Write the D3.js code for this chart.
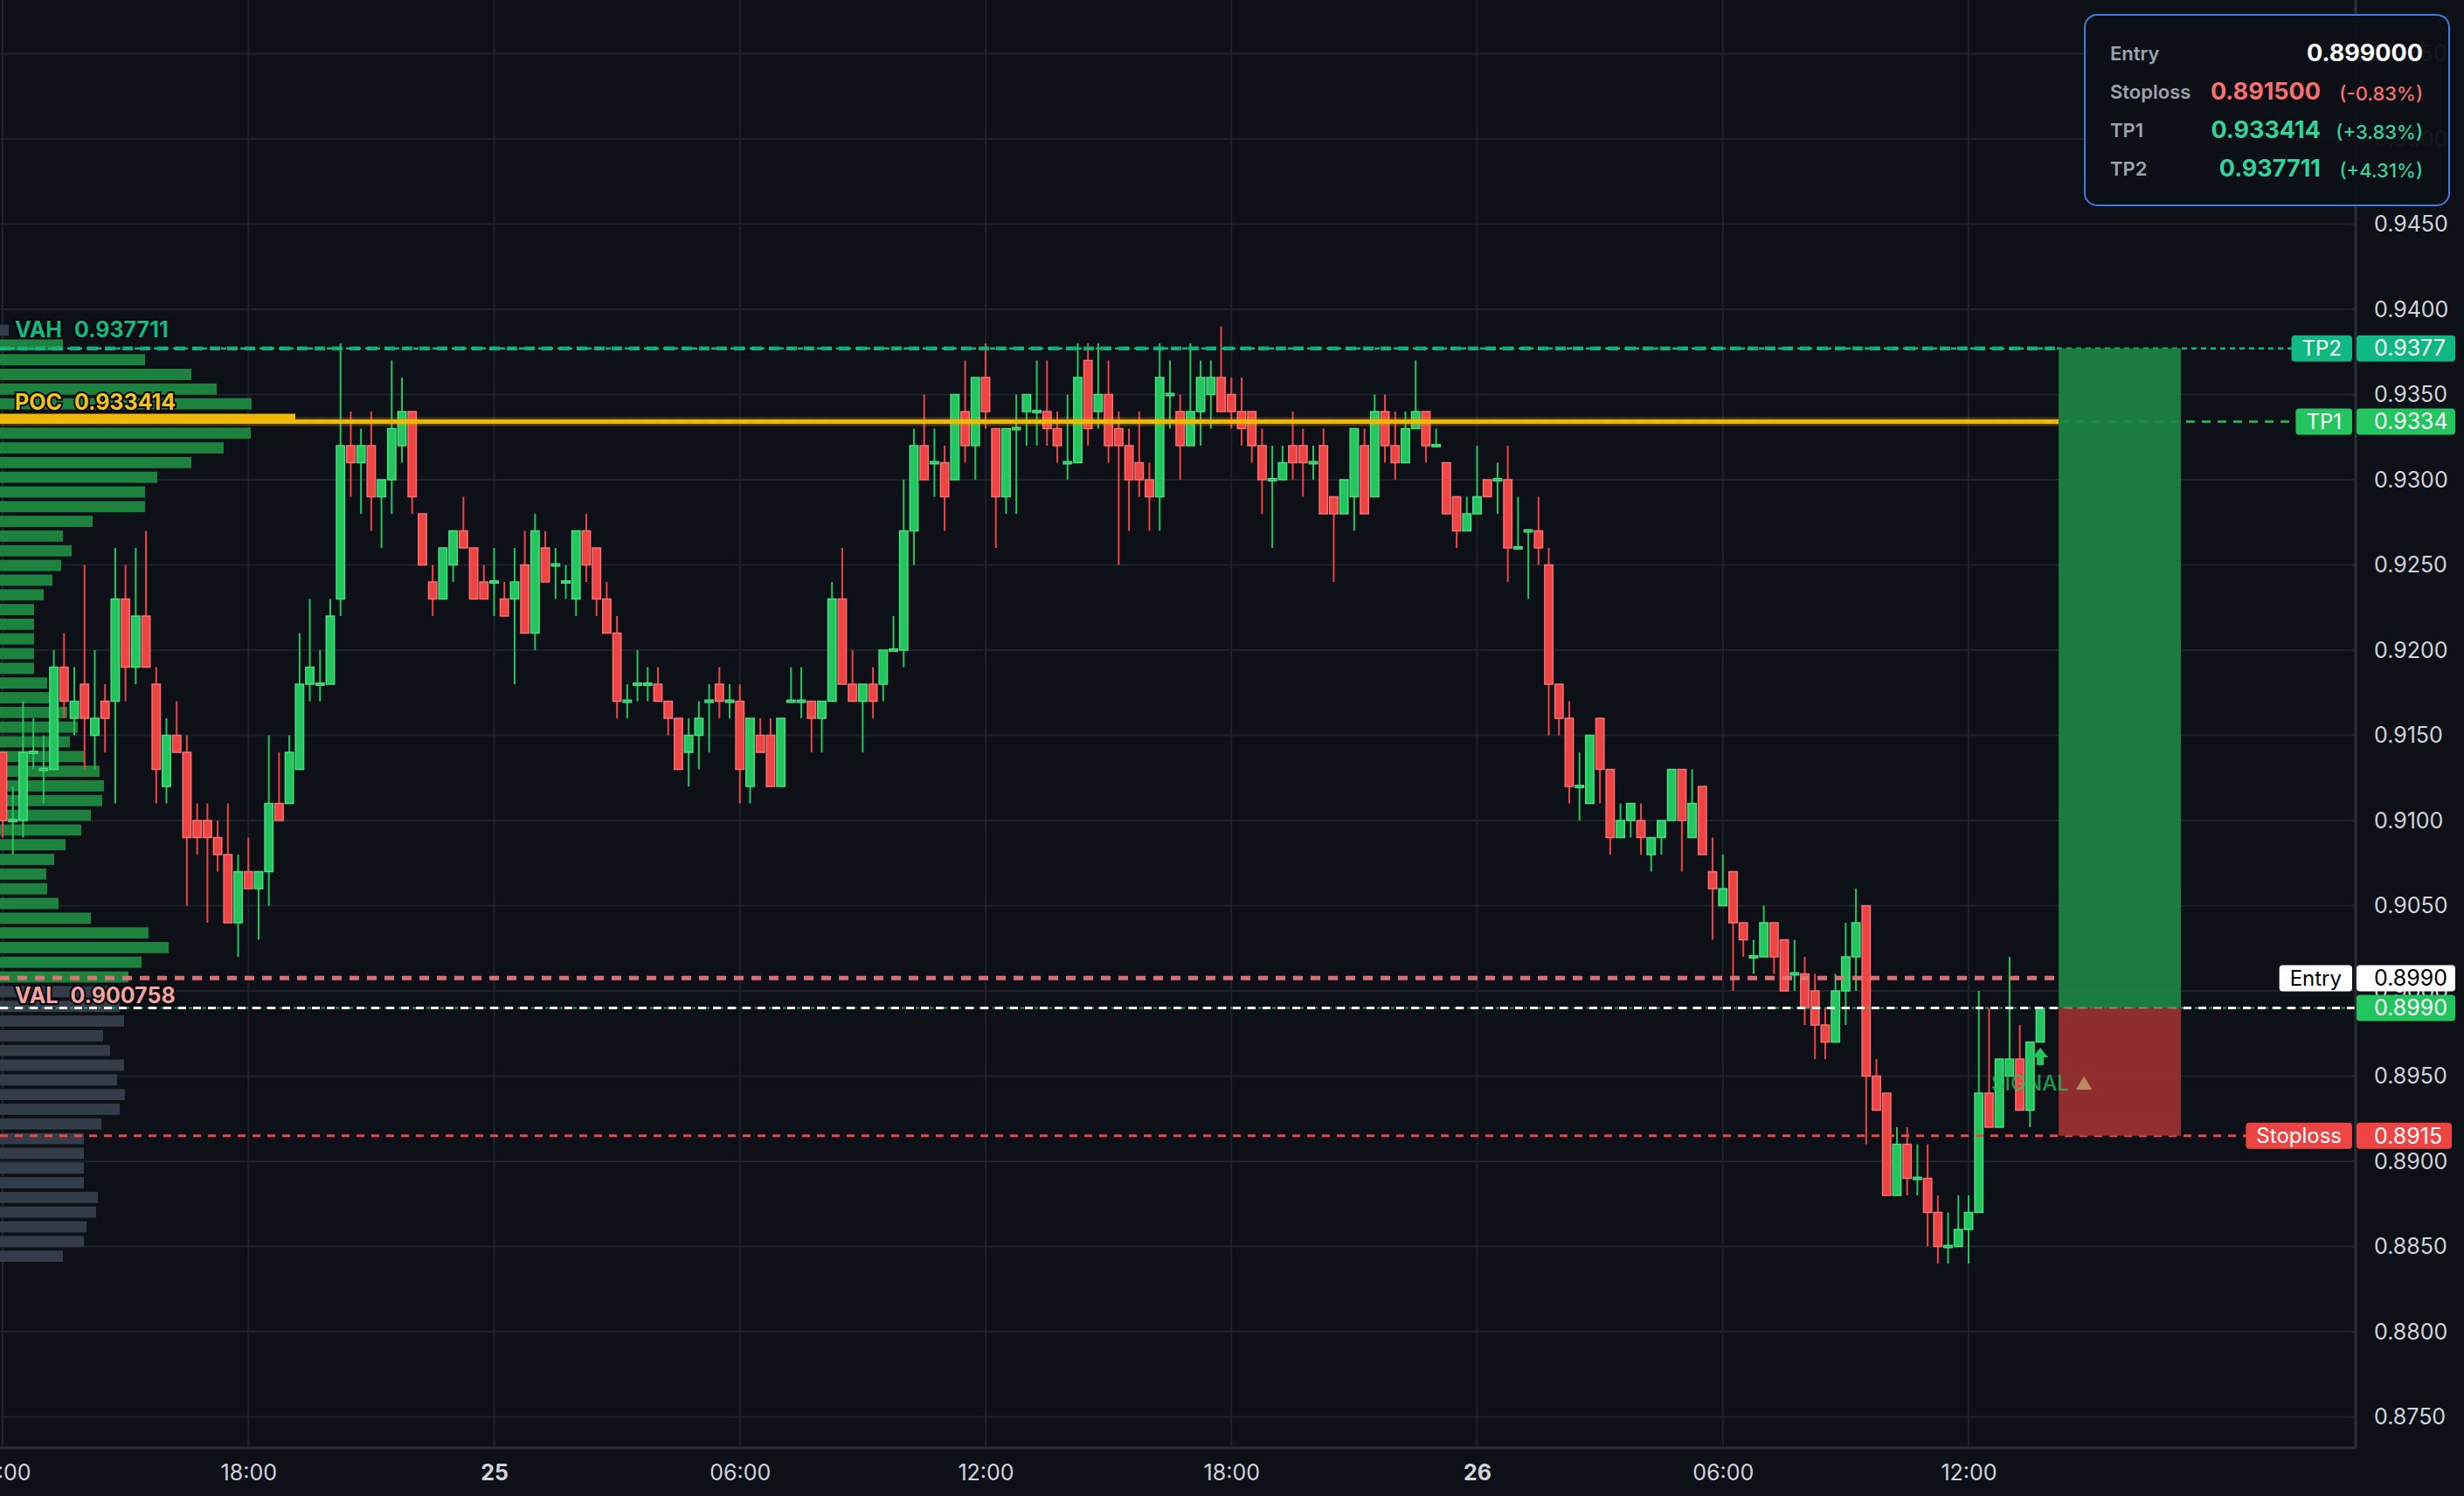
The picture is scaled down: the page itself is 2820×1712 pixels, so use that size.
<!DOCTYPE html>
<html><head><meta charset="utf-8">
<script src="https://cdn.jsdelivr.net/npm/d3@7"></script>
<style>
html,body{margin:0;padding:0;background:#0d1017;overflow:hidden}
svg{display:block}
text{font-family:Inter,"Noto Sans",sans-serif}
</style></head><body>
<svg id="chart" width="2820" height="1712"></svg>
<script>
// ---------------- DATA ----------------
// 15-minute candles starting 24th 12:00
const open = [0.914,0.910,0.910,0.914,0.913,0.913,0.919,0.916,0.918,0.915,
0.917,0.917,0.923,0.919,0.922,0.918,0.912,0.915,0.914,0.910,
0.910,0.909,0.908,0.904,0.907,0.906,0.907,0.911,0.911,0.913,
0.918,0.918,0.918,0.923,0.932,0.931,0.932,0.929,0.930,0.932,
0.934,0.928,0.924,0.923,0.925,0.927,0.926,0.924,0.924,0.923,
0.923,0.925,0.921,0.926,0.925,0.924,0.923,0.927,0.926,0.923,
0.921,0.917,0.918,0.918,0.918,0.917,0.916,0.914,0.915,0.917,
0.918,0.917,0.917,0.912,0.915,0.915,0.912,0.917,0.917,0.917,
0.916,0.917,0.923,0.918,0.917,0.918,0.918,0.920,0.920,0.927,
0.932,0.931,0.931,0.930,0.934,0.932,0.936,0.933,0.929,0.933,
0.934,0.934,0.934,0.933,0.931,0.931,0.937,0.934,0.935,0.933,
0.932,0.931,0.930,0.929,0.935,0.934,0.932,0.934,0.935,0.936,
0.935,0.934,0.934,0.932,0.930,0.930,0.932,0.932,0.931,0.932,
0.929,0.928,0.929,0.932,0.929,0.934,0.932,0.931,0.933,0.934,
0.932,0.931,0.929,0.927,0.928,0.930,0.930,0.930,0.926,0.927,
0.927,0.925,0.918,0.916,0.912,0.911,0.916,0.913,0.909,0.910,
0.910,0.908,0.909,0.910,0.913,0.909,0.912,0.907,0.905,0.907,
0.904,0.902,0.902,0.904,0.903,0.901,0.901,0.900,0.898,0.897,
0.900,0.902,0.905,0.895,0.894,0.888,0.891,0.889,0.889,0.887,
0.885,0.885,0.886,0.887,0.894,0.892,0.895,0.896,0.893,0.897];
const high = [0.914,0.912,0.917,0.916,0.915,0.920,0.921,0.919,0.925,0.920,
0.918,0.926,0.925,0.926,0.927,0.919,0.916,0.917,0.915,0.911,
0.911,0.910,0.911,0.908,0.909,0.907,0.915,0.914,0.915,0.921,
0.923,0.920,0.923,0.938,0.934,0.933,0.934,0.930,0.937,0.936,
0.934,0.928,0.925,0.926,0.927,0.929,0.926,0.925,0.926,0.924,
0.926,0.927,0.928,0.927,0.926,0.925,0.927,0.928,0.926,0.924,
0.922,0.918,0.920,0.919,0.919,0.917,0.916,0.916,0.917,0.918,
0.919,0.918,0.918,0.916,0.916,0.916,0.916,0.919,0.919,0.917,
0.917,0.924,0.926,0.920,0.918,0.919,0.920,0.922,0.930,0.933,
0.935,0.933,0.932,0.935,0.937,0.936,0.938,0.933,0.933,0.935,
0.935,0.937,0.937,0.934,0.935,0.938,0.938,0.938,0.937,0.934,
0.933,0.934,0.931,0.938,0.937,0.935,0.938,0.937,0.937,0.939,
0.936,0.936,0.934,0.933,0.932,0.932,0.934,0.933,0.932,0.933,
0.929,0.930,0.933,0.933,0.935,0.935,0.934,0.934,0.937,0.934,
0.933,0.931,0.929,0.929,0.932,0.930,0.931,0.932,0.929,0.927,
0.929,0.926,0.918,0.917,0.914,0.915,0.916,0.913,0.911,0.911,
0.911,0.909,0.910,0.913,0.913,0.913,0.912,0.909,0.908,0.907,
0.904,0.903,0.905,0.904,0.903,0.903,0.902,0.901,0.899,0.901,
0.904,0.906,0.905,0.896,0.894,0.892,0.892,0.891,0.891,0.888,
0.887,0.888,0.888,0.900,0.899,0.896,0.902,0.898,0.897,0.899];
const low = [0.909,0.908,0.909,0.913,0.911,0.913,0.916,0.915,0.913,0.913,
0.914,0.911,0.917,0.918,0.919,0.911,0.911,0.914,0.905,0.908,
0.904,0.907,0.904,0.902,0.906,0.903,0.905,0.910,0.911,0.913,
0.917,0.917,0.918,0.922,0.929,0.928,0.927,0.926,0.928,0.931,
0.928,0.925,0.922,0.923,0.924,0.926,0.923,0.923,0.922,0.922,
0.918,0.921,0.920,0.924,0.923,0.923,0.922,0.924,0.922,0.921,
0.916,0.916,0.917,0.917,0.917,0.915,0.913,0.912,0.913,0.914,
0.916,0.916,0.911,0.911,0.914,0.912,0.912,0.917,0.916,0.914,
0.914,0.917,0.918,0.917,0.914,0.916,0.917,0.920,0.919,0.925,
0.930,0.929,0.927,0.930,0.931,0.930,0.933,0.926,0.928,0.928,
0.932,0.932,0.932,0.931,0.930,0.931,0.932,0.933,0.931,0.925,
0.927,0.929,0.927,0.927,0.933,0.930,0.932,0.932,0.933,0.934,
0.933,0.932,0.931,0.928,0.926,0.930,0.930,0.929,0.930,0.928,
0.924,0.928,0.927,0.928,0.929,0.931,0.930,0.931,0.933,0.931,
0.932,0.928,0.926,0.927,0.928,0.929,0.928,0.924,0.926,0.923,
0.925,0.915,0.915,0.911,0.910,0.911,0.911,0.908,0.909,0.909,
0.908,0.907,0.908,0.910,0.907,0.909,0.908,0.903,0.905,0.900,
0.902,0.901,0.902,0.901,0.900,0.900,0.898,0.896,0.896,0.897,
0.898,0.900,0.891,0.893,0.888,0.888,0.888,0.888,0.885,0.884,
0.884,0.885,0.884,0.887,0.892,0.892,0.895,0.893,0.892,0.897];
const close = [0.910,0.910,0.914,0.914,0.913,0.919,0.917,0.917,0.916,0.916,
0.916,0.923,0.919,0.922,0.919,0.913,0.915,0.914,0.909,0.909,
0.909,0.908,0.904,0.907,0.906,0.907,0.911,0.910,0.914,0.918,
0.919,0.918,0.922,0.932,0.931,0.932,0.929,0.930,0.933,0.934,
0.929,0.925,0.923,0.926,0.927,0.926,0.923,0.923,0.924,0.922,
0.924,0.921,0.927,0.924,0.925,0.924,0.927,0.925,0.923,0.921,
0.917,0.917,0.918,0.918,0.917,0.916,0.913,0.915,0.916,0.917,
0.917,0.917,0.913,0.916,0.914,0.912,0.916,0.917,0.917,0.916,
0.917,0.923,0.918,0.917,0.918,0.917,0.920,0.920,0.927,0.932,
0.930,0.931,0.929,0.935,0.932,0.936,0.934,0.929,0.933,0.933,
0.935,0.934,0.933,0.932,0.931,0.936,0.933,0.935,0.932,0.932,
0.930,0.930,0.929,0.936,0.935,0.932,0.934,0.936,0.936,0.934,
0.934,0.933,0.932,0.930,0.930,0.931,0.931,0.931,0.931,0.928,
0.928,0.930,0.933,0.928,0.934,0.932,0.931,0.933,0.934,0.932,
0.932,0.928,0.927,0.928,0.929,0.929,0.930,0.926,0.926,0.927,
0.926,0.918,0.916,0.912,0.912,0.915,0.913,0.909,0.910,0.911,
0.909,0.909,0.910,0.913,0.910,0.911,0.908,0.906,0.906,0.904,
0.903,0.902,0.904,0.902,0.900,0.901,0.899,0.898,0.897,0.900,
0.902,0.904,0.895,0.893,0.888,0.891,0.889,0.889,0.887,0.885,
0.885,0.886,0.887,0.894,0.892,0.896,0.896,0.893,0.897,0.899];

// volume profile: 64 rows from profileHigh (top) down to profileLow
const profileHigh = 0.9392, profileLow = 0.8840;
const profileVolume = [10,72,166,219,248,288,338,287,256,219,
180,166,166,106,72,82,70,60,50,39,
39,39,39,39,54,62,77,89,80,96,
114,119,117,104,93,75,62,53,54,67,
104,170,193,162,147,125,137,142,118,126,
142,134,143,137,116,96,96,96,96,112,
110,99,96,72];

const levelNames = ["VAH","POC","VAL"];
const levelValues = [0.937711, 0.933414, 0.900758];

const entryPrice = 0.899, stopPrice = 0.8915, tp1Price = 0.933414, tp2Price = 0.937711;
const lastPrice = 0.899;

const yTickValues = [0.875,0.880,0.885,0.890,0.895,0.900,0.905,0.910,0.915,0.920,0.925,0.930,0.935,0.940,0.945,0.950,0.955];
const xTickDates = ["2024-05-24T12:00Z","2024-05-24T18:00Z","2024-05-25T00:00Z","2024-05-25T06:00Z","2024-05-25T12:00Z","2024-05-25T18:00Z","2024-05-26T00:00Z","2024-05-26T06:00Z","2024-05-26T12:00Z"];
const xTickLabels = ["12:00","18:00","25","06:00","12:00","18:00","26","06:00","12:00"];
const positionStart = "2024-05-26T14:12Z", positionEnd = "2024-05-26T17:11Z";
const signalTime = "2024-05-26T13:45Z";

// ---------------- LAYOUT ----------------
const W = 2820, H = 1712, plotRight = 2696, plotBottom = 1657;
const GREEN = "#22c55e", RED = "#ef4444", TEAL = "#10b981";
const svg = d3.select("#chart");
svg.append("rect").attr("width", W).attr("height", H).attr("fill", "#0d1017");

const y = d3.scaleLinear().domain([0.875, 0.945]).range([1621.5, 256.5]);
const t0 = new Date("2024-05-24T12:00Z");
const x = d3.scaleUtc().domain([t0, new Date("2024-05-26T12:00Z")]).range([3, 2253]);
const times = open.map((_, i) => new Date(+t0 + i * 15 * 60000));
const xt = xTickDates.map(d => new Date(d));

const plot = svg.append("g");
// grid
plot.selectAll("line.gh").data(yTickValues).join("line").attr("class","gh")
  .attr("x1", 0).attr("x2", plotRight).attr("y1", d => y(d)).attr("y2", d => y(d))
  .attr("stroke", "#1d212a").attr("stroke-width", 2);
plot.selectAll("line.gv").data(xt).join("line").attr("class","gv")
  .attr("x1", d => x(d)).attr("x2", d => x(d)).attr("y1", 0).attr("y2", plotBottom)
  .attr("stroke", "#1d212a").attr("stroke-width", 2);

// volume profile
const nb = profileVolume.length, step = (profileHigh - profileLow) / nb;
const vx = d3.scaleLinear().domain([0, d3.max(profileVolume)]).range([0, 338]);
const pocIdx = profileVolume.indexOf(d3.max(profileVolume));
plot.append("g").selectAll("rect").data(profileVolume).join("rect")
  .attr("x", 0)
  .attr("y", (v, i) => y(profileHigh - i * step) + (i === pocIdx ? 3 : 2))
  .attr("height", (v, i) => y(profileHigh - (i + 1) * step) - y(profileHigh - i * step) - (i === pocIdx ? 6 : 4))
  .attr("width", v => vx(v))
  .attr("fill", (v, i) => {
    if (i === pocIdx) return "#f2b705";
    const top = profileHigh - i * step, bot = top - step;
    return (bot <= levelValues[0] && top >= levelValues[2]) ? "#1c823d" : "#343b49";
  });

// candles
const idx = d3.range(open.length);
const bw = 9.4;
const cg = plot.append("g");
cg.selectAll("line").data(idx).join("line")
  .attr("x1", i => x(times[i])).attr("x2", i => x(times[i]))
  .attr("y1", i => y(high[i])).attr("y2", i => y(low[i]))
  .attr("stroke", i => close[i] >= open[i] ? GREEN : RED).attr("stroke-width", 2);
cg.selectAll("rect").data(idx).join("rect")
  .attr("x", i => x(times[i]) - bw / 2).attr("width", bw)
  .attr("y", i => { const a = y(Math.max(open[i], close[i])), b = y(Math.min(open[i], close[i])); return (b - a) < 2.5 ? a - 1.25 : a; })
  .attr("height", i => Math.max(2.5, y(Math.min(open[i], close[i])) - y(Math.max(open[i], close[i]))))
  .attr("fill", i => close[i] >= open[i] ? GREEN : RED)
  .attr("stroke", i => close[i] >= open[i] ? "#4ade80" : "#f87171").attr("stroke-width", 1.5);

// level lines
const xs = x(new Date(positionStart)), xe = x(new Date(positionEnd));
const lines = plot.append("g");
function hline(p, x1, x2, color, w, dash, op) {
  lines.append("line").attr("x1", x1).attr("x2", x2).attr("y1", y(p)).attr("y2", y(p))
    .attr("stroke", color).attr("stroke-width", w).attr("stroke-dasharray", dash || null)
    .attr("opacity", op == null ? 1 : op);
}
hline(tp1Price, 0, 2630, GREEN, 2.5, "10,8");
hline(levelValues[0], 0, xs, TEAL, 4.5, "12,8", 0.9);
hline(tp2Price, 0, 2626, TEAL, 2.5, "6,5");
hline(levelValues[1], 0, xs, "#f2b705", 10, null, 0.25);
hline(levelValues[1], 0, xs, "#f5bb0b", 5, null, 0.95);
hline(levelValues[2], 0, xs, "#e97474", 5, "11,9", 0.95);
hline(stopPrice, 0, 2578, RED, 3, "9,8");
hline(lastPrice, 0, plotRight, GREEN, 1.5, "4,4");
hline(entryPrice, 0, plotRight, "#ffffff", 3, "9,8");

// position box
const box = plot.append("g").attr("opacity", 0.92);
box.append("rect").attr("x", xs).attr("width", xe - xs).attr("y", y(tp2Price)).attr("height", y(entryPrice) - y(tp2Price)).attr("fill", "#1c8644");
box.append("rect").attr("x", xs).attr("width", xe - xs).attr("y", y(entryPrice)).attr("height", y(stopPrice) - y(entryPrice)).attr("fill", "#9c3132");

// signal
const sx = x(new Date(signalTime));
const sg = plot.append("g");
sg.append("text").attr("x", sx - 56).attr("y", 1240).attr("dy", "0.35em").attr("font-size", 24).attr("font-weight", 500)
  .attr("fill", GREEN).attr("opacity", 0.75).text("SIGNAL");
sg.append("text").attr("x", sx + 40).attr("y", 1240).attr("dy", "0.35em").attr("font-size", 20)
  .attr("fill", "#b88a5e").text("▲");
sg.append("path").attr("fill", GREEN)
  .attr("d", `M${sx},1199 L${sx + 9},1210 L${sx + 4},1210 L${sx + 4},1219 L${sx - 4},1219 L${sx - 4},1210 L${sx - 9},1210 Z`);

// level labels (left)
const lblColors = [TEAL, "#f5c518", "#f4a3a3"];
const lblY = [377, 460, 1139];
const lbl = plot.append("g").selectAll("text").data(levelNames).join("text")
  .attr("x", 17).attr("y", (d, i) => lblY[i]).attr("dy", "0.35em")
  .attr("font-size", 25).attr("font-weight", 700)
  .attr("fill", (d, i) => lblColors[i]).attr("stroke", "#05070a").attr("stroke-width", 4)
  .attr("paint-order", "stroke");
lbl.append("tspan").text(d => d);
lbl.append("tspan").attr("dx", 14).text((d, i) => d3.format(".6f")(levelValues[i]));

// axes frame
svg.append("line").attr("x1", plotRight).attr("x2", plotRight).attr("y1", 0).attr("y2", plotBottom).attr("stroke", "#2a2e38").attr("stroke-width", 3);
svg.append("line").attr("x1", 0).attr("x2", plotRight).attr("y1", plotBottom).attr("y2", plotBottom).attr("stroke", "#2a2e38").attr("stroke-width", 3);

// y axis
const yAxis = svg.append("g").attr("transform", `translate(${plotRight},0)`)
  .call(d3.axisRight(y).tickValues(yTickValues).tickFormat(d3.format(".4f")).tickSize(0).tickPadding(21));
yAxis.select(".domain").remove();
yAxis.selectAll("text").attr("font-size", 25).attr("fill", "#d1d4dc").attr("font-family", "Inter");

// x axis
const xAxis = svg.append("g").attr("transform", `translate(0,${plotBottom})`)
  .call(d3.axisBottom(x).tickValues(xt).tickFormat((d, i) => xTickLabels[i]).tickSize(0));
xAxis.select(".domain").remove();
xAxis.selectAll("text").attr("y", 28).attr("dy", "0.35em").attr("font-size", 25).attr("fill", "#d1d4dc")
  .attr("font-family", "Inter").attr("font-weight", (d, i) => xTickLabels[i].length === 2 ? 700 : 400);

// right tags
const tags = svg.append("g");
function tag(yc, name, fill, textFill, valueText, valueFill, valueTextFill, vw) {
  if (name) {
    const t = tags.append("text").attr("font-size", 24).attr("text-anchor", "middle").attr("dy", "0.35em").attr("y", yc).text(name);
    const tw = t.node().getComputedTextLength() + 24;
    tags.insert("rect", "text").attr("x", 2692 - tw).attr("y", yc - 15).attr("width", tw).attr("height", 30).attr("rx", 4).attr("fill", fill);
    t.attr("x", 2692 - tw / 2).attr("fill", textFill).raise();
  }
  tags.append("rect").attr("x", 2697).attr("y", yc - 15).attr("width", vw || 113).attr("height", 30).attr("rx", 4).attr("fill", valueFill);
  tags.append("text").attr("x", 2717).attr("y", yc).attr("dy", "0.35em").attr("font-size", 25).attr("fill", valueTextFill).text(valueText);
}
const f4 = d3.format(".4f");
tag(y(tp2Price), "TP2", TEAL, "#ffffff", f4(tp2Price), TEAL, "#ffffff");
tag(y(tp1Price), "TP1", GREEN, "#ffffff", f4(tp1Price), GREEN, "#ffffff");
tag(y(entryPrice) - 34, "Entry", "#ffffff", "#000000", f4(entryPrice), "#ffffff", "#000000");
tag(y(lastPrice), null, null, null, f4(lastPrice), GREEN, "#ffffff");
tag(y(stopPrice), "Stoploss", RED, "#ffffff", f4(stopPrice), RED, "#ffffff", 109);

// info box
const ib = svg.append("g");
ib.append("rect").attr("x", 2386).attr("y", 17).attr("width", 417).attr("height", 218).attr("rx", 14)
  .attr("fill", "#0d1017").attr("fill-opacity", 0.96).attr("stroke", "#3b7ddd").attr("stroke-width", 2);
const rowNames = ["Entry", "Stoploss", "TP1", "TP2"];
const rowVals = [entryPrice, stopPrice, tp1Price, tp2Price];
const rowCols = ["#ffffff", "#f87171", "#34d399", "#34d399"];
const pct = d3.format("+.2f");
rowNames.forEach((n, i) => {
  const yc = 61 + i * 44;
  ib.append("text").attr("x", 2415).attr("y", yc).attr("dy", "0.35em").attr("font-size", 22).attr("font-weight", 600).attr("fill", "#9ca3af").text(n);
  if (i === 0) {
    ib.append("text").attr("x", 2773).attr("y", yc).attr("dy", "0.35em").attr("text-anchor", "end").attr("font-size", 27).attr("font-weight", 700).attr("fill", rowCols[i]).text(d3.format(".6f")(rowVals[i]));
  } else {
    ib.append("text").attr("x", 2656).attr("y", yc).attr("dy", "0.35em").attr("text-anchor", "end").attr("font-size", 27).attr("font-weight", 700).attr("fill", rowCols[i]).text(d3.format(".6f")(rowVals[i]));
    ib.append("text").attr("x", 2773).attr("y", yc + 2).attr("dy", "0.35em").attr("text-anchor", "end").attr("font-size", 22).attr("font-weight", 500).attr("fill", rowCols[i])
      .text("(" + pct((rowVals[i] - entryPrice) / entryPrice * 100).replace("−", "-") + "%)");
  }
});
</script>
</body></html>
